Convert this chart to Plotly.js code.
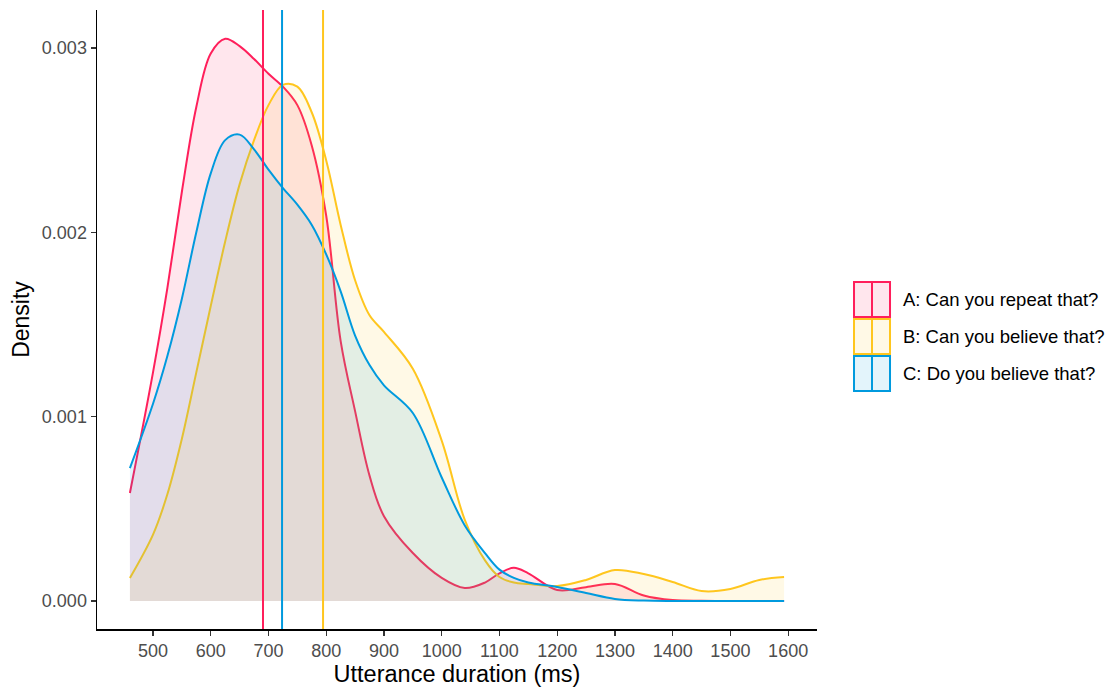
<!DOCTYPE html>
<html><head><meta charset="utf-8">
<script src="https://cdn.plot.ly/plotly-3.0.1.min.js"></script>
<style>body{margin:0;background:#fff}#plot{width:1118px;height:688px}</style>
</head><body><div id="plot"></div>
<script>
const seriesNames = ["A: Can you repeat that?", "B: Can you believe that?", "C: Do you believe that?"];
const seriesColors = ["#FF1F5B", "#FFC61E", "#009ADE"];
const seriesFills = ["rgba(255,31,91,0.11)", "rgba(255,198,30,0.11)", "rgba(0,154,222,0.11)"];
const durationMs = [460,500,525,550,575,600,625,650,675,700,725,750,775,800,825,850,875,900,950,1000,1040,1075,1100,1125,1150,1200,1250,1300,1350,1400,1450,1500,1550,1593];
const densityA = [0.000586,0.00124,0.0017,0.00222,0.00268,0.00297,0.00305,0.00301,0.00294,0.00286,0.00279,0.00269,0.00247,0.00209,0.00141,0.00103,0.00068,0.00046,0.00026,0.000125,0.00007,0.0001,0.00015,0.00018,0.00015,0.00006,0.000075,0.000092,0.00003,0.000005,0.000001,0,0,0];
const densityB = [0.000125,0.00036,0.00058,0.00088,0.00124,0.0016,0.00195,0.00226,0.0025,0.00269,0.0028,0.00279,0.00265,0.00239,0.00204,0.00174,0.00155,0.00146,0.00126,0.00087,0.00044,0.00022,0.00013,0.0001,0.000092,0.000081,0.000114,0.000168,0.000146,0.000103,0.000054,0.000065,0.000114,0.00013];
const densityC = [0.000721,0.00107,0.00133,0.00164,0.002,0.00232,0.0025,0.00253,0.00245,0.00234,0.00224,0.00215,0.00204,0.00188,0.00168,0.00144,0.00128,0.00117,0.00102,0.00067,0.00041,0.00026,0.00017,0.000125,0.0001,0.000076,0.000043,0.000011,0.000002,0,0,0,0,0];
const meanDuration = [690.5, 794.5, 723.5];
const xTicks = [500,600,700,800,900,1000,1100,1200,1300,1400,1500,1600];
const yTicks = [0, 0.001, 0.002, 0.003];

const FONT = 'Liberation Sans, Arial, Helvetica, sans-serif';
const densities = [densityA, densityB, densityC];
const traces = densities.map((d, i) => ({
  x: durationMs, y: d, type: 'scatter', mode: 'lines',
  line: {color: seriesColors[i], width: 2, shape: 'spline', smoothing: 1},
  fill: 'tozeroy', fillcolor: seriesFills[i],
  name: seriesNames[i], showlegend: false, hoverinfo: 'skip'
}));

const shapes = meanDuration.map((m, i) => ({
  type: 'line', xref: 'x', yref: 'paper', x0: m, x1: m, y0: 0, y1: 1,
  line: {color: seriesColors[i], width: 2}
}));

// custom legend (keys: filled box with vertical line)
const annotations = [];
const keyX0 = 1.0514, keyX1 = 1.1014, keyH = 0.0565, keyTop = 0.5606, keyGap = 0.0598;
seriesNames.forEach((n, i) => {
  const top = keyTop - i * keyGap, bot = top - keyH;
  shapes.push({type: 'rect', xref: 'paper', yref: 'paper', x0: keyX0, x1: keyX1, y0: bot, y1: top,
    fillcolor: seriesFills[i], line: {color: seriesColors[i], width: 2}});
  shapes.push({type: 'line', xref: 'paper', yref: 'paper', x0: (keyX0 + keyX1) / 2, x1: (keyX0 + keyX1) / 2, y0: bot, y1: top,
    line: {color: seriesColors[i], width: 2}});
  annotations.push({xref: 'paper', yref: 'paper', x: 1.116, y: (top + bot) / 2, xanchor: 'left', yanchor: 'middle',
    text: n, showarrow: false, font: {family: FONT, size: 18.5, color: '#000'}});
});

const layout = {
  width: 1118, height: 688,
  margin: {l: 97, r: 301, t: 10, b: 59},
  paper_bgcolor: '#fff', plot_bgcolor: '#fff',
  font: {family: FONT},
  xaxis: {
    range: [403, 1650], tickvals: xTicks, ticktext: xTicks.map(String),
    showgrid: false, zeroline: false, showline: true, linecolor: '#000', linewidth: 1.5,
    ticks: 'outside', ticklen: 5, tickwidth: 1.2, tickcolor: '#333',
    tickfont: {size: 18, color: '#4d4d4d'},
    title: {text: 'Utterance duration (ms)', font: {size: 23.5, color: '#000'}, standoff: 2}
  },
  yaxis: {
    range: [-0.000152, 0.003206], tickvals: yTicks, ticktext: yTicks.map(v => v.toFixed(3)),
    showgrid: false, zeroline: false, showline: true, linecolor: '#000', linewidth: 1.5,
    ticks: 'outside', ticklen: 5, tickwidth: 1.2, tickcolor: '#333',
    tickfont: {size: 18, color: '#4d4d4d'},
    title: {text: 'Density', font: {size: 23, color: '#000'}, standoff: 6}
  },
  shapes: shapes, annotations: annotations, showlegend: false
};
Plotly.newPlot('plot', traces, layout, {staticPlot: true});
</script></body></html>
